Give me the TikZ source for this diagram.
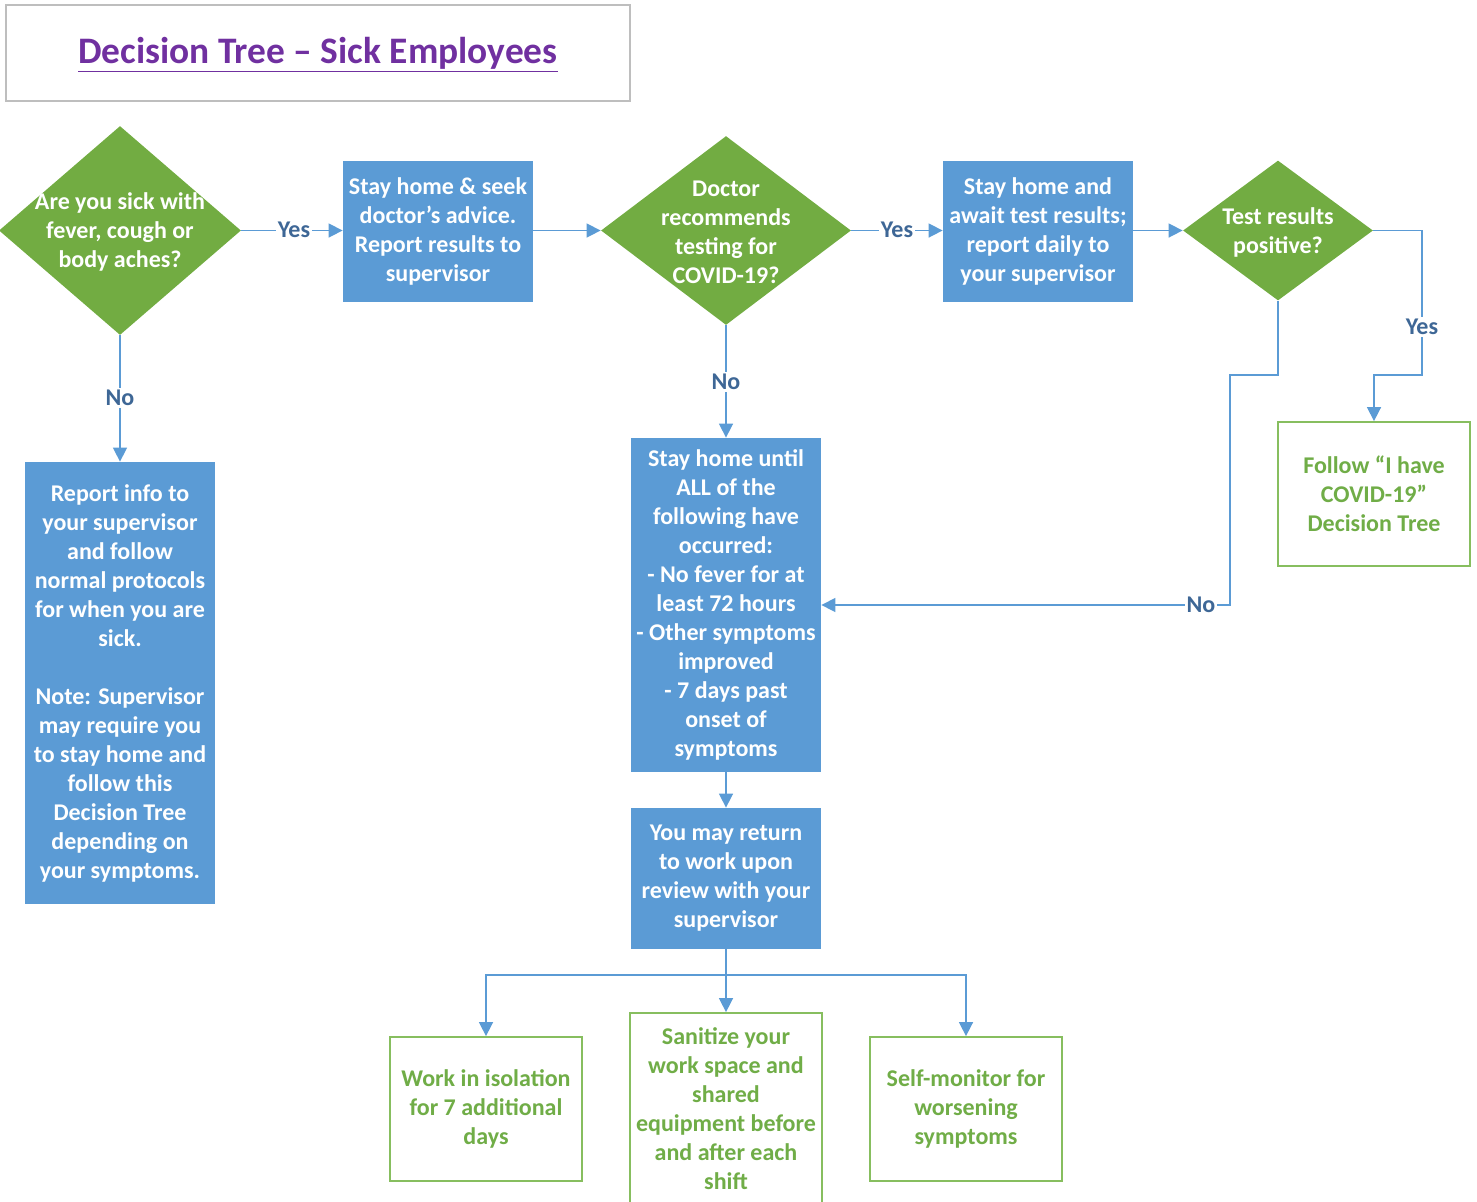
\documentclass[tikz,border=0pt]{standalone}
\usepackage{fontspec}
\setmainfont{Carlito}
\usetikzlibrary{shapes.geometric,arrows.meta}
\definecolor{dgreen}{RGB}{114,172,66}
\definecolor{bblue}{RGB}{91,155,213}
\definecolor{lblue}{RGB}{62,103,150}
\definecolor{gborder}{RGB}{135,190,95}
\definecolor{gtext}{RGB}{112,173,71}
\definecolor{ttl}{RGB}{112,48,160}
\definecolor{tborder}{RGB}{190,190,190}
\begin{document}
\begin{tikzpicture}[x=0.5pt,y=-0.5pt,
  txt/.style={font=\fontsize{12}{14.5}\selectfont\bfseries, align=center},
  dia/.style={diamond, fill=dgreen, inner sep=0pt},
  bbox/.style={rectangle, fill=bblue, inner sep=1pt, txt, text=white},
  gbox/.style={rectangle, draw=gborder, line width=0.9pt, fill=white, inner sep=1pt, txt, text=gtext},
  conn/.style={draw=bblue, line width=0.75pt, -{Triangle[length=7pt,width=7pt]}},
  plain/.style={draw=bblue, line width=0.75pt},
  lbl/.style={font=\fontsize{12}{14.5}\selectfont\bfseries, text=lblue, fill=white, inner sep=1pt}]
\useasboundingbox (0,0) rectangle (1477,1201);

% title
\node[draw=tborder, line width=0.8pt, minimum width=312pt, minimum height=48pt] (tbox) at (318,53) {};
\node[font=\fontsize{18.7}{22}\selectfont\bfseries, text=ttl] (title) at (318,55) {\underline{Decision Tree – Sick Employees}};

% diamonds
\node[dia, minimum width=121pt, minimum height=104.5pt] (d1) at (120,230.5) {};
\node[txt, text=white] (d1t) at (120,232) {Are you sick with\\fever, cough or\\body aches?};
\node[dia, minimum width=125pt, minimum height=94.5pt] (d2) at (726,230.5) {};
\node[txt, text=white] (d2t) at (726,232) {Doctor\\recommends\\testing for\\COVID-19?};
\node[dia, minimum width=95pt, minimum height=70pt] (d3) at (1278,230.5) {};
\node[txt, text=white] (d3t) at (1278,232) {Test results\\positive?};

% blue boxes
\node[bbox, minimum width=95pt, minimum height=70.5pt] (b1) at (438,231.5) {Stay home \& seek\\doctor’s advice.\\Report results to\\supervisor};
\node[bbox, minimum width=95pt, minimum height=70.5pt] (b2) at (1038,231.5) {Stay home and\\await test results;\\report daily to\\your supervisor};
\node[bbox, minimum width=95pt, minimum height=221pt] (rep) at (120,683) {Report info to\\your supervisor\\and follow\\normal protocols\\for when you are\\sick.\\[14.5pt]Note: Supervisor\\may require you\\to stay home and\\follow this\\Decision Tree\\depending on\\your symptoms.};
\node[bbox, minimum width=95pt, minimum height=167pt] (stay) at (726,605) {Stay home until\\ALL of the\\following have\\occurred:\\- No fever for at\\least 72 hours\\- Other symptoms\\improved\\- 7 days past\\onset of\\symptoms};
\node[bbox, minimum width=95pt, minimum height=70.5pt] (ret) at (726,878.5) {You may return\\to work upon\\review with your\\supervisor};

% green boxes
\node[gbox, minimum width=96pt, minimum height=72pt] (fol) at (1374,494) {Follow “I have\\COVID-19”\\Decision Tree};
\node[gbox, minimum width=96pt, minimum height=72pt] (g1) at (486,1109) {Work in isolation\\for 7 additional\\days};
\node[gbox, minimum width=96pt, minimum height=96pt] (g2) at (726,1109) {Sanitize your\\work space and\\shared\\equipment before\\and after each\\shift};
\node[gbox, minimum width=96pt, minimum height=72pt] (g3) at (966,1109) {Self-monitor for\\worsening\\symptoms};

% connectors
\draw[conn] (d1.east) -- (b1.west |- d1.east);
\node[lbl] (y1) at (294,230) {Yes};
\draw[conn] (b1.east |- d2.west) -- (d2.west);
\draw[conn] (d2.east) -- (b2.west |- d2.east);
\node[lbl] (y2) at (897,230) {Yes};
\draw[conn] (b2.east |- d3.west) -- (d3.west);
\draw[conn] (d3.east) -- (1422,230.5) -- (1422,375) -- (1374,375) -- (fol.north);
\node[lbl] (y3) at (1422,327) {Yes};
\draw[conn] (d3.south) -- (1278,375) -- (1230,375) -- (1230,605) -- (stay.east);
\node[lbl] (n3) at (1201,605) {No};
\draw[conn] (d1.south) -- (rep.north);
\node[lbl] (n1) at (120,398) {No};
\draw[conn] (d2.south) -- (stay.north);
\node[lbl] (n2) at (726,382) {No};
\draw[conn] (stay.south) -- (ret.north);
\coordinate (split) at (726,975);
\draw[plain] (ret.south) -- (split);
\draw[conn] (split) -| (g1.north);
\draw[conn] (split) -| (g3.north);
\draw[conn] (split) -- (g2.north);
\end{tikzpicture}
\end{document}
